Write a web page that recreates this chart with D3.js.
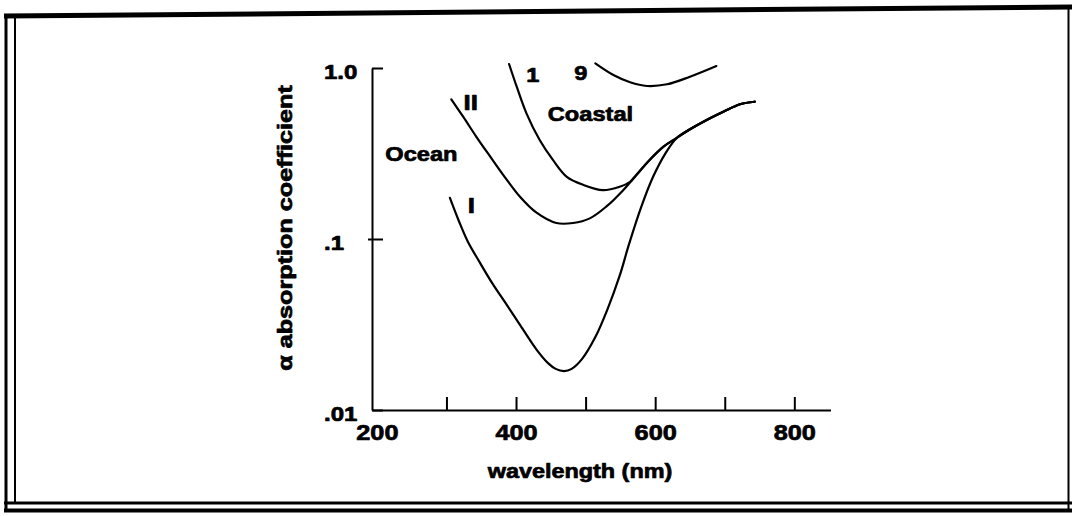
<!DOCTYPE html>
<html><head><meta charset="utf-8">
<script src="https://cdnjs.cloudflare.com/ajax/libs/d3/7.8.5/d3.min.js"></script>
<style>
body{margin:0;background:#fff}
svg{display:block}
text{font-family:"Liberation Sans",Arial,Helvetica,sans-serif;font-weight:bold;fill:#000;stroke:#000;stroke-width:0.7px;stroke-linejoin:round}
</style>
</head><body>
<svg id="chart" width="1072" height="516"></svg>
<script>
// ---- data (wavelength nm, absorption coefficient) ----
const oceanI_nm = [305,318,331,347,366,387,409,430,446,457,469,480,495,514,531,549,562,580,597,615,631,650,674,698,722,743];
const oceanI_a  = [0.174,0.127,0.096,0.074,0.055,0.041,0.030,0.0224,0.0188,0.0174,0.0169,0.0174,0.0199,0.0267,0.0384,0.061,0.092,0.154,0.231,0.318,0.39,0.438,0.497,0.555,0.614,0.635];

const oceanII_nm = [307,324,343,363,386,406,429,458,482,506,530,554,573,592,612,631,650,674,698,722,743];
const oceanII_a  = [0.656,0.519,0.396,0.303,0.224,0.176,0.143,0.124,0.124,0.132,0.155,0.193,0.237,0.290,0.347,0.39,0.438,0.497,0.555,0.614,0.635];

const coastal1_nm = [390,401,415,434,453,473,497,525,549,564,573,592,612,631,650,674,698,722,743];
const coastal1_a  = [1.055,0.777,0.543,0.379,0.290,0.231,0.207,0.193,0.202,0.216,0.237,0.290,0.347,0.39,0.438,0.497,0.555,0.614,0.635];

const coastal9_nm = [514,540,564,588,617,650,688];
const coastal9_a  = [1.065,0.910,0.825,0.785,0.803,0.889,1.027];

const xTickValues = [200,300,400,500,600,700,800];
const xTickLabels = ["200","","400","","600","","800"];
const yTickValues = [0.01,0.1,1.0];
const yTickLabels = [".01",".1","1.0"];

const annotText = ["Ocean","II","I","1","9","Coastal"];
const annotNm   = [264,335,336,424,493,507];
const annotA    = [0.286,0.568,0.142,0.828,0.851,0.487];

const xTitle = "wavelength (nm)";
const yTitle = "α absorption coefficient";

// ---- drawing ----
const svg = d3.select("#chart");
const x = d3.scaleLinear().domain([193, 852]).range([372, 830.5]);
const y = d3.scaleLog().domain([0.01, 1.0]).range([410, 68]);

function stretch(sel, k){
  sel.each(function(){
    const L = this.getComputedTextLength();
    d3.select(this).attr("textLength", L*k).attr("lengthAdjust","spacingAndGlyphs");
  });
}

// frame
const frame = svg.append("g").attr("fill","none").attr("stroke","#000");
frame.append("line").attr("x1",6).attr("y1",14).attr("x2",6).attr("y2",512).attr("stroke-width",3);
frame.append("line").attr("x1",15).attr("y1",18).attr("x2",15).attr("y2",504).attr("stroke-width",2);
frame.append("line").attr("x1",4).attr("y1",16).attr("x2",1072).attr("y2",7).attr("stroke-width",5);
frame.append("line").attr("x1",1068.5).attr("y1",6).attr("x2",1068.5).attr("y2",512).attr("stroke-width",2);
frame.append("line").attr("x1",4).attr("y1",503).attr("x2",1072).attr("y2",503).attr("stroke-width",3);
frame.append("line").attr("x1",4).attr("y1",510.5).attr("x2",1072).attr("y2",510.5).attr("stroke-width",4);

// x axis
const xAxis = d3.axisBottom(x).tickValues(xTickValues)
  .tickFormat((d,i)=>xTickLabels[i]).tickSizeInner(-13).tickSizeOuter(0).tickPadding(12);
const gx = svg.append("g").attr("transform",`translate(0,${y(0.01)})`).call(xAxis);
gx.select(".domain").attr("stroke","#000").attr("stroke-width",2);
gx.selectAll(".tick line").attr("stroke","#000").attr("stroke-width",2)
  .attr("display",d=>d===200?"none":null);
gx.selectAll(".tick text").attr("y",30).attr("dy",0).style("font-size","22px");
stretch(gx.selectAll(".tick text"),1.15);

// y axis
const yAxis = d3.axisLeft(y).tickValues(yTickValues)
  .tickFormat((d,i)=>yTickLabels[i]).tickSizeInner(-11).tickSizeOuter(0).tickPadding(0);
const gy = svg.append("g").attr("transform",`translate(${x(193)},0)`).call(yAxis);
gy.select(".domain").attr("stroke","#000").attr("stroke-width",2);
gy.selectAll(".tick line").attr("stroke","#000").attr("stroke-width",2)
  .attr("x1",d=>d===0.1?-4:0);
gy.selectAll(".tick text").attr("text-anchor","start").attr("x",-48).attr("dy","0.5em")
  .style("font-size","20px");
stretch(gy.selectAll(".tick text"),1.2);

// curves
const line = d3.line().x(d=>x(d[0])).y(d=>y(d[1])).curve(d3.curveCatmullRom.alpha(0.5));
const series = [
  [oceanI_nm, oceanI_a],
  [oceanII_nm, oceanII_a],
  [coastal1_nm, coastal1_a],
  [coastal9_nm, coastal9_a]
];
svg.append("g").selectAll("path").data(series).join("path")
  .attr("d",s=>line(s[0].map((w,i)=>[w,s[1][i]])))
  .attr("fill","none").attr("stroke","#000").attr("stroke-width",2.2)
  .attr("stroke-linejoin","round").attr("stroke-linecap","round");

// annotations
const sizes = {"Ocean":20,"Coastal":20,"I":22,"II":22,"1":20,"9":20};
const ann = svg.append("g").selectAll("text").data(annotText).join("text")
  .attr("x",(d,i)=>x(annotNm[i])).attr("y",(d,i)=>y(annotA[i]))
  .attr("text-anchor","middle").style("font-size",d=>sizes[d]+"px").text(d=>d);
stretch(ann,1.18);

// axis titles
const xt = svg.append("text").attr("x",580).attr("y",478).attr("text-anchor","middle")
  .style("font-size","20px").text(xTitle);
stretch(xt,1.17);
const yt = svg.append("text").attr("transform","translate(292,228) rotate(-90)")
  .attr("text-anchor","middle").style("font-size","21px").text(yTitle);
stretch(yt,1.2);
</script>
</body></html>
